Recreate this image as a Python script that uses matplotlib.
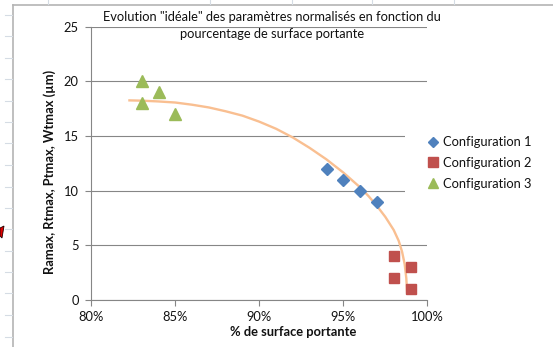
import matplotlib.pyplot as plt
from matplotlib.lines import Line2D
from matplotlib.patches import Polygon

plt.rcParams['font.family'] = ['Lato', 'DejaVu Sans']

# measured points for each configuration (% surface portante, value in µm)
conf1_x = [94, 95, 96, 97]
conf1_y = [12, 11, 10, 9]
conf2_x = [98, 98, 99, 99]
conf2_y = [4, 2, 3, 1]
conf3_x = [83, 83, 84, 85]
conf3_y = [20, 18, 19, 17]

# hand-drawn "ideal" trend
ideal_x = [82.2, 83, 84, 85, 86, 87, 88, 89, 90, 91, 92, 93, 94, 95, 96,
           96.5, 97, 97.5, 98, 98.3, 98.5, 98.65, 98.75, 98.8]
ideal_y = [18.25, 18.22, 18.15, 18.05, 17.85, 17.6, 17.25, 16.85, 16.3, 15.65,
           14.85, 13.9, 12.85, 11.65, 10.3, 9.5, 8.6, 7.6, 6.4, 5.4, 4.4, 3.3,
           2.0, 0.6]

x_ticks = [80, 85, 90, 95, 100]
x_tick_labels = ['80%', '85%', '90%', '95%', '100%']
y_ticks = [0, 5, 10, 15, 20, 25]

title_lines = ['Evolution "idéale" des paramètres normalisés en fonction du',
               'pourcentage de surface portante']

BLUE = '#4F81BD'
RED = '#C0504D'
GREEN = '#9BBB59'
ORANGE = '#F9BF91'
GRID = '#868686'
TXT = '#111111'
FS = 9.3

fig = plt.figure(figsize=(5.53, 3.47), dpi=100)
fig.patch.set_facecolor('white')

# spreadsheet frame around the chart object
bg = fig.add_axes([0, 0, 1, 1], zorder=-5)
bg.set_xlim(0, 553)
bg.set_ylim(347, 0)
bg.axis('off')
bg.plot([13, 13], [4.5, 347], color='#B4B4B4', lw=1.2)
bg.plot([13, 553], [4.5, 4.5], color='#B4B4B4', lw=1.2)
for yy in [15, 36, 58, 79, 101, 122, 143, 165, 187, 208, 229, 251, 272, 293, 315, 337]:
    bg.plot([5, 12], [yy, yy], color='#D5DCE4', lw=0.8)
for xx in [48, 210, 292, 372, 454]:
    bg.plot([xx, xx], [0, 4], color='#D5DCE4', lw=0.8)
bg.add_patch(Polygon([[0, 228], [4, 226], [2, 238], [0, 236]],
                     closed=True, facecolor='#E00000', edgecolor='#200000', lw=0.6))

# two-line chart title, one baseline per line
for yy, line in zip([21.0, 38.5], title_lines):
    fig.text(272 / 553, 1 - yy / 347, line, ha='center', va='baseline',
             fontsize=FS, color=TXT, zorder=6)

ax = fig.add_axes([91.3 / 553, 1 - 300 / 347, (427.3 - 91.3) / 553, (300 - 26.5) / 347])
ax.set_facecolor('none')

ax.plot(ideal_x, ideal_y, color=ORANGE, lw=1.7, solid_capstyle='butt', zorder=2)
ax.plot(conf1_x, conf1_y, linestyle='none', marker='D', ms=5.8, color=BLUE,
        mec=BLUE, zorder=3)
ax.plot(conf2_x, conf2_y, linestyle='none', marker='s', ms=7.2, color=RED,
        mec=RED, zorder=3)
ax.plot(conf3_x, conf3_y, linestyle='none', marker='^', ms=8.2, color=GREEN,
        mec=GREEN, zorder=3)

ax.set_xlim(80, 100)
ax.set_ylim(0, 25)
ax.set_xticks(x_ticks)
ax.set_xticklabels(x_tick_labels)
ax.set_yticks(y_ticks)

ax.yaxis.grid(True, color=GRID, lw=0.8)
ax.set_axisbelow(True)
for side in ['top', 'right']:
    ax.spines[side].set_visible(False)
for side in ['left', 'bottom']:
    ax.spines[side].set_color(GRID)
    ax.spines[side].set_linewidth(0.8)
ax.tick_params(axis='both', colors=GRID, length=4, width=0.8, labelsize=FS,
               labelcolor=TXT)
ax.tick_params(axis='y', pad=5)
ax.tick_params(axis='x', pad=4)

ax.set_xlabel('% de surface portante', fontsize=FS, fontweight='bold', color=TXT)
ax.xaxis.set_label_coords(0.6, -0.095)
ax.set_ylabel('Ramax, Rtmax, Ptmax, Wtmax (µm)', fontsize=FS,
              fontweight='bold', color=TXT)
ax.yaxis.set_label_coords(-0.104, 0.47)

handles = [
    Line2D([], [], linestyle='none', marker='D', ms=4.8, color=BLUE),
    Line2D([], [], linestyle='none', marker='s', ms=6.5, color=RED),
    Line2D([], [], linestyle='none', marker='^', ms=6.8, color=GREEN),
]
leg = fig.legend(handles, ['Configuration 1', 'Configuration 2', 'Configuration 3'],
                 loc='upper left', bbox_to_anchor=(405 / 553, 1 - 113 / 347),
                 frameon=True, fontsize=FS, handlelength=0.8, handletextpad=0.35,
                 labelspacing=0.67, borderpad=1.8, borderaxespad=0)
leg.get_frame().set_facecolor('white')
leg.get_frame().set_edgecolor('none')
leg.get_frame().set_alpha(1)
leg.set_zorder(5)
for t in leg.get_texts():
    t.set_color(TXT)

fig.savefig('out.png', dpi=100)
